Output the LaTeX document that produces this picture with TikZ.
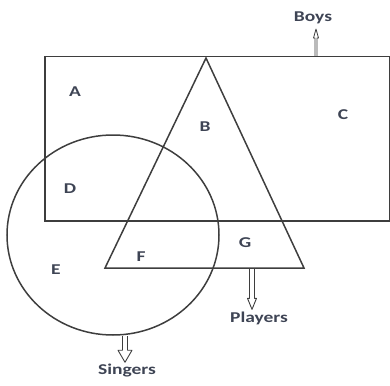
\documentclass[tikz,border=0pt]{standalone}
\usepackage{fontspec}
\setmainfont{Carlito}[FakeStretch=1.3]
\usetikzlibrary{arrows.meta, positioning, shapes.geometric, calc}
\definecolor{SetLine}{RGB}{62,62,62}
\definecolor{LabelText}{RGB}{62,68,84}

\begin{document}
\begin{tikzpicture}[
    x=1pt, y=-1pt,
    font=\fontsize{15}{17}\selectfont\bfseries,
    setline/.style={draw=SetLine, line width=1.5pt},
    region/.style={text=LabelText, inner sep=0pt},
    hollow/.style={draw=SetLine, fill=white, line width=0.9pt, line join=round},
]
\useasboundingbox (0,0) rectangle (390,385);

% boys: rechteck
\node[setline, inner sep=0pt, minimum width=345pt, minimum height=164pt, anchor=north west]
    (boys) at (44,56) {};

% singers: kreis (leicht oval)
\node[setline, ellipse, inner sep=0pt, minimum width=212pt, minimum height=200pt]
    (singers) at (113,235) {};

% players: dreieck
\coordinate (apex) at (206,58);
\coordinate (baseL) at (105,268);
\coordinate (baseR) at (304,268);
\draw[setline, line join=miter] (apex) -- (baseR) -- (baseL) -- cycle;

% bereiche
\node[region] (a) at (75,92) {A};
\node[region] (b) at (205,127) {B};
\node[region] (c) at (343,115) {C};
\node[region] (d) at (70,189) {D};
\node[region] (e) at (56,270) {E};
\node[region] (f) at (141,257) {F};
\node[region] (g) at (245,243) {G};

% beschriftungen
\node[region] (boysLbl) at (313,18) {Boys};
\node[region] (playersLbl) at (259,318) {Players};
\node[region] (singersLbl) at (127,371) {Singers};

% pfeile (hohl)
\coordinate (boysFoot) at (316,56);
\coordinate (playersFoot) at (252,269);
\coordinate (singersFoot) at (125,336);
\coordinate (boysTip) at (316,29);
\coordinate (playersTip) at ($(playersLbl.north -| playersFoot)+(0,-2)$);
\coordinate (singersTip) at ($(singersLbl.north -| singersFoot)+(0,-2)$);

\draw[hollow, line width=0.8pt] ($(boysFoot)+(-1,0)$) -- ($(boysTip)+(-1,9)$) -- ++(-1.5,0)
    -- (boysTip) -- ($(boysTip)+(2.5,9)$) -- ++(-1.5,0) -- ($(boysFoot)+(1,0)$);
\draw[hollow] ($(playersFoot)+(-2.5,0)$) -- ($(playersTip)+(-2.5,-11)$) -- ++(-2,0)
    -- (playersTip) -- ($(playersTip)+(4.5,-11)$) -- ++(-2,0) -- ($(playersFoot)+(2.5,0)$);
\draw[hollow] ($(singersFoot)+(-2.5,0)$) -- ($(singersTip)+(-2.5,-12)$) -- ++(-4.5,0)
    -- (singersTip) -- ($(singersTip)+(7,-12)$) -- ++(-4.5,0) -- ($(singersFoot)+(2.5,0)$);

\end{tikzpicture}
\end{document}
